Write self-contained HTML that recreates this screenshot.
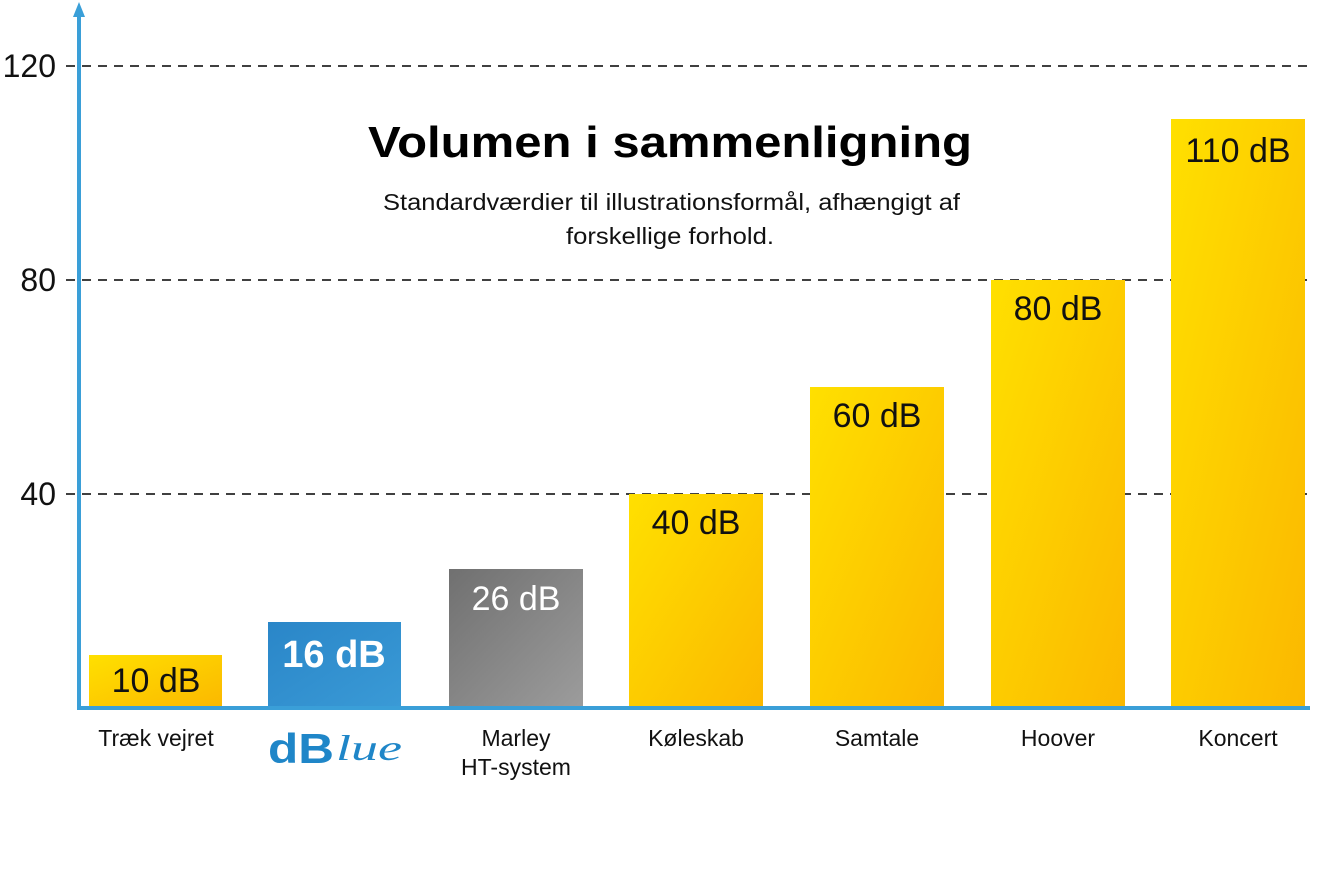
<!DOCTYPE html>
<html><head><meta charset="utf-8"><style>
html,body{margin:0;padding:0;background:#fff;}
svg{display:block;font-family:"Liberation Sans",sans-serif;}
</style></head><body>
<svg width="1321" height="875" viewBox="0 0 1321 875" xmlns="http://www.w3.org/2000/svg">
<defs>
<linearGradient id="y" x1="0" y1="0" x2="1" y2="1"><stop offset="0" stop-color="#ffe000"/><stop offset="1" stop-color="#fbb800"/></linearGradient>
<linearGradient id="g" x1="0" y1="0" x2="1" y2="1"><stop offset="0" stop-color="#707070"/><stop offset="1" stop-color="#9c9c9c"/></linearGradient>
<linearGradient id="b" x1="0" y1="0" x2="1" y2="1"><stop offset="0" stop-color="#2a86c8"/><stop offset="1" stop-color="#3a9ad6"/></linearGradient>
</defs>
<g stroke="#000" stroke-width="1.5" stroke-dasharray="9,7">
<line x1="66" y1="66" x2="1310" y2="66"/>
<line x1="66" y1="280" x2="1310" y2="280"/>
<line x1="66" y1="494" x2="1310" y2="494"/>
</g>
<g font-size="32" fill="#111" text-anchor="end">
<text x="56" y="77">120</text><text x="56" y="291">80</text><text x="56" y="505">40</text>
</g>
<rect x="89" y="655" width="133" height="52" fill="url(#y)"/>
<rect x="268" y="622" width="133" height="85" fill="url(#b)"/>
<rect x="449" y="569" width="134" height="138" fill="url(#g)"/>
<rect x="629" y="494" width="134" height="213" fill="url(#y)"/>
<rect x="810" y="387" width="134" height="320" fill="url(#y)"/>
<rect x="991" y="280" width="134" height="427" fill="url(#y)"/>
<rect x="1171" y="119" width="134" height="588" fill="url(#y)"/>
<g font-size="34" fill="#111" text-anchor="middle">
<text x="156" y="692">10 dB</text>
<text x="516" y="610" fill="#fff">26 dB</text>
<text x="696" y="534">40 dB</text>
<text x="877" y="427">60 dB</text>
<text x="1058" y="320">80 dB</text>
<text x="1238" y="162">110 dB</text>
</g>
<text x="334" y="667" font-size="38" font-weight="bold" fill="#fff" text-anchor="middle">16 dB</text>
<line x1="79" y1="708" x2="1310" y2="708" stroke="#3a9fd8" stroke-width="4"/>
<line x1="79" y1="12" x2="79" y2="710" stroke="#3a9fd8" stroke-width="4"/>
<polygon points="79,2 73,17 85,17" fill="#3a9fd8"/>
<text x="368" y="157" font-size="44" font-weight="bold" fill="#000" textLength="604" lengthAdjust="spacingAndGlyphs">Volumen i sammenligning</text>
<g font-size="23" fill="#111">
<text x="383" y="210" textLength="577" lengthAdjust="spacingAndGlyphs">Standardværdier til illustrationsformål, afhængigt af</text>
<text x="566" y="244" textLength="208" lengthAdjust="spacingAndGlyphs">forskellige forhold.</text>
</g>
<g font-size="23" text-anchor="middle" fill="#111">
<text x="156" y="746">Træk vejret</text>
<text x="516" y="746">Marley</text>
<text x="516" y="775">HT-system</text>
<text x="696" y="746">Køleskab</text>
<text x="877" y="746">Samtale</text>
<text x="1058" y="746">Hoover</text>
<text x="1238" y="746">Koncert</text>
</g>
<text x="268" y="763" font-size="42" font-weight="bold" fill="#1f86c8" textLength="66" lengthAdjust="spacingAndGlyphs">dB</text>
<text x="336" y="760" font-size="36" font-style="italic" font-family="Liberation Serif,serif" fill="#1f86c8" textLength="66" lengthAdjust="spacingAndGlyphs">lue</text>
</svg>
</body></html>
